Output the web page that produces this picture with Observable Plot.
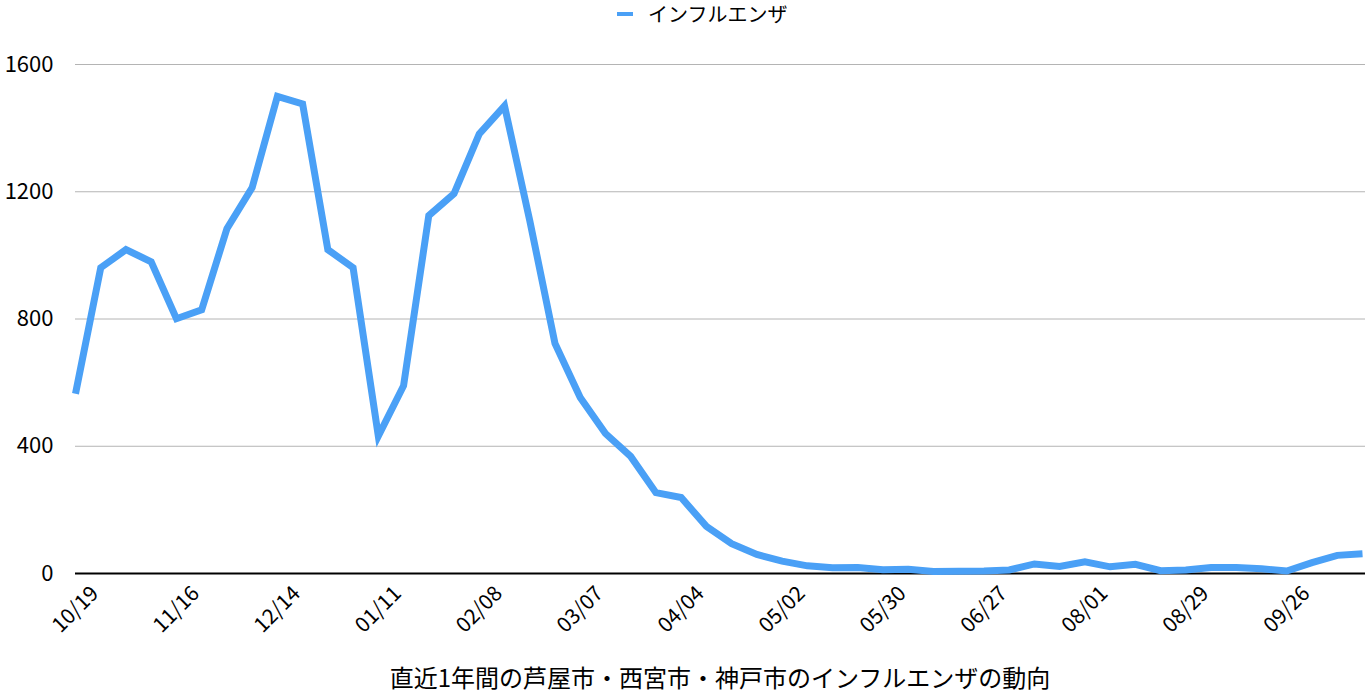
<!DOCTYPE html>
<html>
<head>
<meta charset="utf-8">
<script src="https://cdn.jsdelivr.net/npm/d3@7"></script>
<script src="https://cdn.jsdelivr.net/npm/@observablehq/plot@0.6"></script>
<style>
  html, body { margin: 0; padding: 0; background: #fff; }
  body { width: 1370px; height: 698px; position: relative; overflow: hidden;
         font-family: "Noto Sans CJK JP", "Noto Sans", sans-serif; color: #000; }
  #legend { position: absolute; top: 4px; left: 617px; height: 20px; display: flex; align-items: center; font-size: 20px; }
  #legend .sw { width: 16px; height: 4px; background: #4aa0f6; margin-right: 15px; }
  #legend .lbl { display: block; height: 20px; line-height: 20px; overflow: visible; }
  #chart { position: absolute; top: 24px; left: 0; }
  #caption { position: absolute; top: 662px; left: 75px; width: 1290px; text-align: center; font-size: 24px; line-height: 30px; }
</style>
</head>
<body>
<div id="chart"></div>
<div id="legend"><div class="sw"></div><div class="lbl">インフルエンザ</div></div>
<div id="caption">直近1年間の芦屋市・西宮市・神戸市のインフルエンザの動向</div>
<script>
const weeks = ["10/19","10/26","11/02","11/09","11/16","11/23","11/30","12/07","12/14","12/21","12/28","01/04",
  "01/11","01/18","01/25","02/01","02/08","02/15","02/22","02/29","03/07","03/14","03/21","03/28",
  "04/04","04/11","04/18","04/25","05/02","05/09","05/16","05/23","05/30","06/06","06/13","06/20",
  "06/27","07/04","07/11","07/18","08/01","08/08","08/15","08/22","08/29","09/05","09/12","09/19",
  "09/26","10/03","10/10","10/17"];
const influenza = [565,961,1018,980,801,829,1084,1213,1500,1476,1018,961,
  432,590,1125,1194,1382,1470,1110,723,553,440,368,254,
  239,148,94,60,39,24,18,19,12,13,6,7,
  8,11,30,22,37,21,29,9,11,19,19,15,
  8,34,57,62];
const xTickLabels = ["10/19","11/16","12/14","01/11","02/08","03/07","04/04","05/02","05/30","06/27","08/01","08/29","09/26"];
const yTicks = [0,400,800,1200,1600];
const seriesName = "インフルエンザ";

const data = weeks.map((w, i) => ({week: w, value: influenza[i], series: seriesName}));

const chart = Plot.plot({
  width: 1370,
  height: 620,
  marginLeft: 75,
  marginRight: 5,
  marginTop: 40,
  marginBottom: 71,
  style: {fontFamily: '"Noto Sans CJK JP", "Noto Sans", sans-serif', background: "transparent", color: "#000"},
  x: {type: "point", domain: weeks, range: [75, 1362], padding: 0, round: false, axis: null},
  y: {domain: [0, 1600], axis: null, label: null},
  marks: [
    Plot.ruleY(yTicks.filter(d => d > 0), {stroke: "#b4b4b4", strokeWidth: 1}),
    Plot.ruleY([0], {stroke: "#000", strokeWidth: 2}),
    Plot.axisY({ticks: yTicks, tickSize: 0, tickPadding: 22, fontSize: 22, label: null, tickFormat: d => String(d)}),
    Plot.text(xTickLabels, {x: d => d, frameAnchor: "bottom", dy: 36, rotate: -45,
      textAnchor: "middle", lineAnchor: "middle", fontSize: 21, fill: "#000"}),
    Plot.line(data, {x: "week", y: "value", stroke: "#4aa0f6", strokeWidth: 7,
      strokeLinecap: "butt", strokeLinejoin: "miter", strokeMiterlimit: 10})
  ]
});
document.getElementById("chart").appendChild(chart);
</script>
</body>
</html>
